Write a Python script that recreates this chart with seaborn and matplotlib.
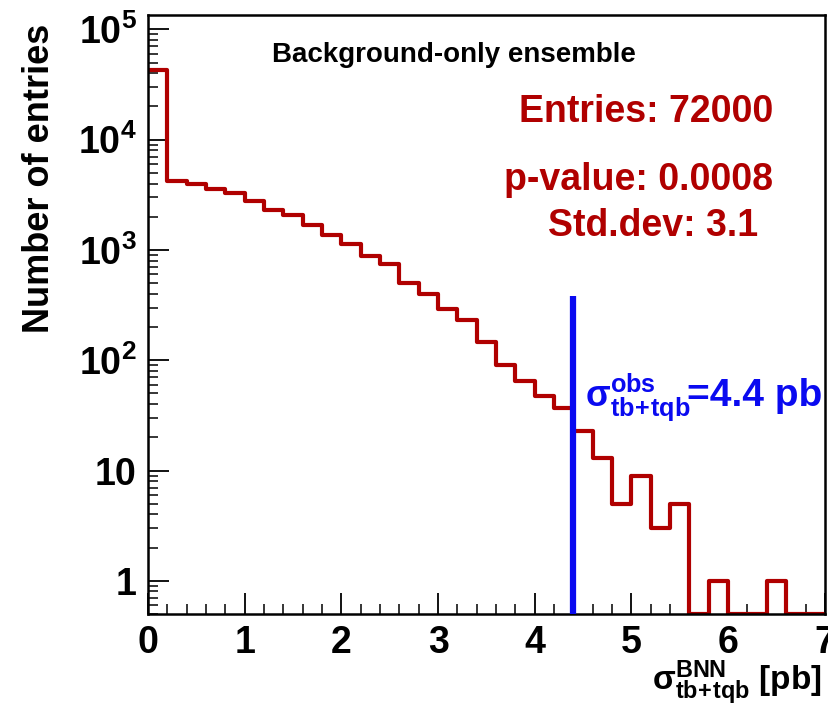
import numpy as np
import pandas as pd
import matplotlib
matplotlib.use("Agg")
import matplotlib.pyplot as plt
import matplotlib.ticker as mticker
import seaborn as sns

# ---- data ----
bin_edges = [round(0.2 * i, 1) for i in range(36)]
counts = [43000, 4250, 4000, 3580, 3290, 2790, 2290, 2070, 1700, 1380,
          1140, 880, 739, 505, 396, 290, 232, 145, 91, 65,
          47, 37, 23, 13, 5, 9, 3, 5, 0, 1,
          0, 0, 1, 0, 0]
x_ticks = [0, 1, 2, 3, 4, 5, 6, 7]
y_ticks = [1, 10, 100, 1000, 10000, 100000]
y_tick_labels = ["1", "10", r"$10^{2}$", r"$10^{3}$", r"$10^{4}$", r"$10^{5}$"]
observed = 4.4
observed_top = 380
title_text = "Background-only ensemble"
stats_texts = ["Entries: 72000", "p-value: 0.0008", "Std.dev: 3.1"]

sns.set_theme(style="white")
plt.rcParams["font.family"] = ["Liberation Sans", "DejaVu Sans"]
plt.rcParams["font.weight"] = "bold"
plt.rcParams["text.color"] = "black"
plt.rcParams["axes.labelcolor"] = "black"
plt.rcParams["mathtext.fontset"] = "custom"
plt.rcParams["mathtext.rm"] = "Liberation Sans:bold"
plt.rcParams["mathtext.bf"] = "Liberation Sans:bold"
plt.rcParams["mathtext.it"] = "Liberation Sans:bold"
plt.rcParams["mathtext.sf"] = "Liberation Sans:bold"
plt.rcParams["mathtext.default"] = "rm"

RED = "#b00000"
BLUE = "#0a0af0"
YMIN, YMAX = 0.5, 1.35e5

centers = [(bin_edges[i] + bin_edges[i + 1]) / 2 for i in range(len(counts))]
df = pd.DataFrame({"x": centers,
                   "w": np.clip(np.array(counts, dtype=float), YMIN, None)})

fig = plt.figure(figsize=(8.29, 7.06), dpi=100)
ax = fig.add_axes([0.1785, 0.1303, 0.8165, 0.8485])
ax.set_yscale("log")

sns.histplot(data=df, x="x", weights="w", bins=bin_edges, element="step",
             fill=False, color=RED, linewidth=3, ax=ax)

ax.plot([observed, observed], [YMIN, observed_top], color=BLUE, lw=4.5,
        solid_capstyle="butt", zorder=5)

ax.set_xlim(0, 7)
ax.set_ylim(YMIN, YMAX)

ax.set_xticks(x_ticks)
ax.set_xticklabels([str(t) for t in x_ticks])
ax.xaxis.set_minor_locator(mticker.MultipleLocator(0.2))
ax.yaxis.set_major_locator(mticker.FixedLocator(y_ticks))
ax.set_yticklabels(y_tick_labels)
ax.yaxis.set_minor_locator(mticker.LogLocator(base=10, subs=np.arange(2, 10)))
ax.yaxis.set_minor_formatter(mticker.NullFormatter())

ax.tick_params(axis="both", which="major", direction="in", length=15, width=1.3,
               colors="black", bottom=True, left=True, top=False, right=False)
ax.tick_params(axis="both", which="minor", direction="in", length=7.5, width=1.3,
               bottom=True, left=True, top=False, right=False)
ax.tick_params(axis="x", which="major", pad=8)
ax.tick_params(axis="y", which="major", pad=8)
tick_family = ["Liberation Sans Narrow", "Liberation Sans", "DejaVu Sans"]
for lab in ax.get_xticklabels() + ax.get_yticklabels():
    lab.set_fontweight("bold")
    lab.set_fontsize(27)
    lab.set_family(tick_family)

for s in ax.spines.values():
    s.set_color("black")
    s.set_linewidth(1.8)

ax.set_xlabel("")
ax.set_ylabel("Number of entries", fontsize=26, fontweight="bold", color="black")
ax.yaxis.set_label_coords(-0.135, 0.728)

fig.text(454 / 829, 1 - 55 / 706, title_text, ha="center", va="center",
         fontsize=20, fontweight="bold", color="black")
ypos = [112, 180, 226]
xpos = [646, 639, 653]
for t, xp, yp in zip(stats_texts, xpos, ypos):
    fig.text(xp / 829, 1 - yp / 706, t, ha="center", va="center",
             fontsize=27, fontweight="bold", color=RED)

fig.text(585 / 829, 1 - 406 / 706, r"$\sigma^{obs}_{tb\!+\!tqb}$",
         ha="left", va="baseline", fontsize=26, fontweight="bold", color=BLUE)
fig.text(822 / 829, 1 - 406 / 706, "=4.4 pb",
         ha="right", va="baseline", fontsize=28, fontweight="bold", color=BLUE)

fig.text(822 / 829, 1 - 690 / 706, r"$\sigma^{BNN}_{tb\!+\!tqb}$ [pb]",
         ha="right", va="baseline", fontsize=24, fontweight="bold", color="black")

fig.savefig("out.png", dpi=100, facecolor="white")
